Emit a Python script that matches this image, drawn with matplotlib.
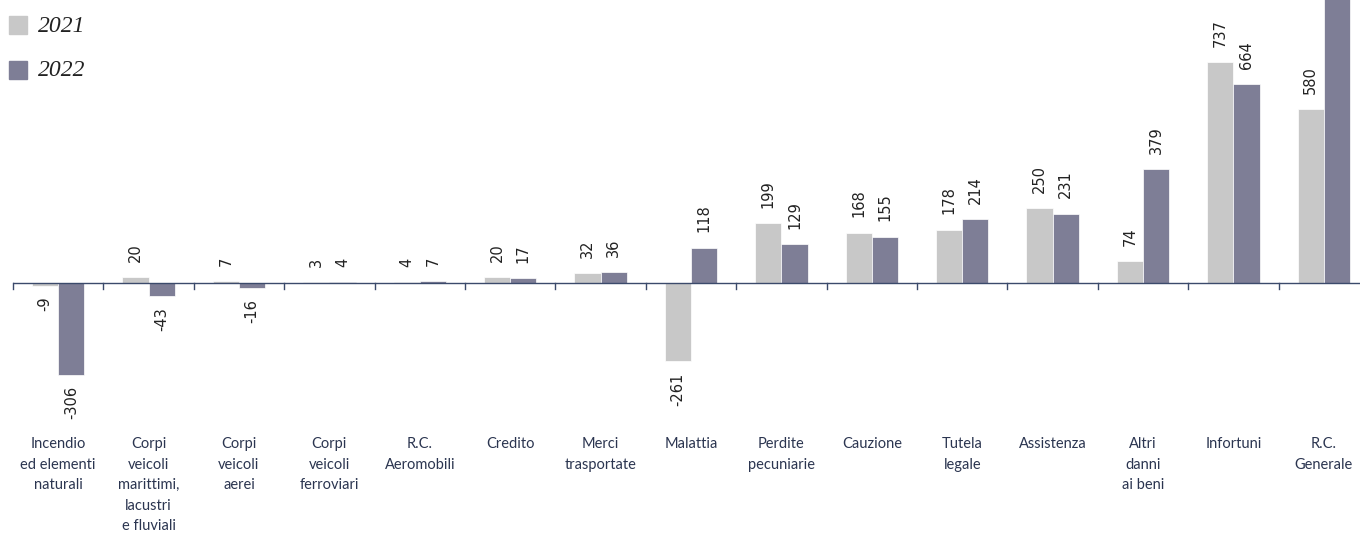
import matplotlib.pyplot as plt
import numpy as np

categories = ["Incendio\ned elementi\nnaturali", "Corpi\nveicoli\nmarittimi,\nlacustri\ne fluviali",
              "Corpi\nveicoli\naerei", "Corpi\nveicoli\nferroviari", "R.C.\nAeromobili", "Credito",
              "Merci\ntrasportate", "Malattia", "Perdite\npecuniarie", "Cauzione", "Tutela\nlegale",
              "Assistenza", "Altri\ndanni\nai beni", "Infortuni", "R.C.\nGenerale"]
v2021 = [-9, 20, 7, 3, 4, 20, 32, -261, 199, 168, 178, 250, 74, 737, 580]
v2022 = [-306, -43, -16, 4, 7, 17, 36, 118, 129, 155, 214, 231, 379, 664, 1050]
# the last 2022 bar runs past the top of the picture: value not readable

c21 = "#c8c8c8"
c22 = "#7e7e96"
axis_col = "#3b4a6b"

fig = plt.figure(figsize=(13.6, 5.37), dpi=100)
# zero line at y=283 px, 0.3 px per unit
ax = fig.add_axes([13 / 1360, 0, 1356 / 1360, 1])
ax.set_ylim(-(537 - 283) / 0.3, 283 / 0.3)
ax.set_xlim(-0.5, 14.5)

x = np.arange(len(categories))
w = 0.29
ax.bar(x - w / 2, v2021, w, color=c21, edgecolor="white", linewidth=0.5, zorder=2)
ax.bar(x + w / 2, v2022, w, color=c22, edgecolor="white", linewidth=0.5, zorder=2)

for xs, vals in [(x - w / 2, v2021), (x + w / 2, v2022)]:
    for xi, v in zip(xs, vals):
        off = 11 if v >= 0 else -8
        ax.annotate(str(v), (xi, v), xytext=(0, off), textcoords="offset points",
                    rotation=90, ha="center", va="bottom" if v >= 0 else "top",
                    fontsize=10.5, color="#222222", family="DejaVu Sans")

ax.axhline(0, color=axis_col, lw=1, zorder=3)
for b in np.arange(-0.5, 15, 1):
    ax.plot([b, b], [0, -20], color=axis_col, lw=1, zorder=3, clip_on=False)

for s in ax.spines.values():
    s.set_visible(False)
ax.set_xticks([])
ax.set_yticks([])

for xi, lab in zip(x, categories):
    ax.text(xi, -(437 - 283) / 0.3, lab, ha="center", va="top", fontsize=10.5,
            color="#2b3550", family="Lato", linespacing=1.6)

# legend
fig.patches.append(plt.Rectangle((9 / 1360, 1 - 34 / 537), 18 / 1360, 18 / 537,
                                 transform=fig.transFigure, color=c21))
fig.patches.append(plt.Rectangle((9 / 1360, 1 - 79 / 537), 18 / 1360, 18 / 537,
                                 transform=fig.transFigure, color=c22))
fig.text(38 / 1360, 1 - 26 / 537, "2021", fontsize=17, style="italic",
         family="Liberation Serif", va="center", color="#222222")
fig.text(38 / 1360, 1 - 71 / 537, "2022", fontsize=17, style="italic",
         family="Liberation Serif", va="center", color="#222222")

fig.savefig("out.png", dpi=100)
